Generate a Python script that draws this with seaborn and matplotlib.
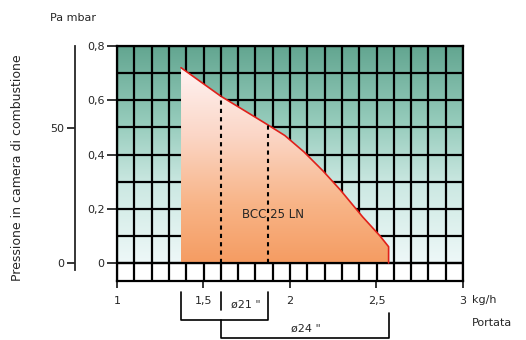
import numpy as np
import matplotlib
matplotlib.use("Agg")
import matplotlib.pyplot as plt
from matplotlib.colors import LinearSegmentedColormap
from matplotlib.patches import Polygon
import seaborn as sns

# Data
curve_x = [1.37, 1.60, 1.87, 1.97, 2.08, 2.19, 2.29, 2.42, 2.52, 2.57, 2.57]
curve_y = [0.72, 0.615, 0.51, 0.47, 0.41, 0.34, 0.27, 0.17, 0.10, 0.06, 0.0]
dash_x = [1.60, 1.87]
x_ticks = [1, 1.5, 2, 2.5, 3]
x_labels = ["1", "1,5", "2", "2,5", "3"]
y_ticks = [0, 0.2, 0.4, 0.6, 0.8]
y_labels = ["0", "0,2", "0,4", "0,6", "0,8"]
mbar_ticks = [0, 50]
model = "BCC 25 LN"
head1 = ("ø21 \"", 1.37, 1.87)
head2 = ("ø24 \"", 1.60, 2.57)

sns.set_style("white")
plt.rcParams["font.family"] = ["DejaVu Sans"]
plt.rcParams["font.size"] = 8

W, H = 526, 340
fig = plt.figure(figsize=(W / 100, H / 100), dpi=100)
ax = fig.add_axes([117 / W, 1 - 281 / H, 346 / W, 235 / H])
ybot = -18 / 271.3
ax.set_xlim(1, 3)
ax.set_ylim(ybot, 0.8)

# grid background gradient
bg = LinearSegmentedColormap.from_list(
    "bg", [(0, "#eef8f8"), (0.35, "#cde9e3"), (0.65, "#95cbbb"), (1, "#62a590")])
ax.imshow(np.linspace(0, 1, 256).reshape(-1, 1), extent=[1, 3, 0, 0.8], origin="lower",
          aspect="auto", cmap=bg, zorder=0)

# grid
for gx in np.arange(1.0, 3.01, 0.1):
    ax.axvline(gx, color="black", lw=1.6, zorder=0.5)
for gy in np.arange(0.0, 0.81, 0.1):
    ax.axhline(gy, color="black", lw=1.6, zorder=0.5)
ax.axhline(0, color="black", lw=1.6, zorder=3)
for s in ax.spines.values():
    s.set_linewidth(1.6)
    s.set_color("black")
    s.set_zorder(5)

# working area with gradient fill
pts = np.column_stack([[curve_x[0]] + curve_x, [0] + curve_y])
poly = Polygon(pts, closed=True, facecolor="none", edgecolor="none", transform=ax.transData)
ax.add_patch(poly)
fill = LinearSegmentedColormap.from_list(
    "fill", [(0, "#f59c62"), (0.3, "#f8b487"), (0.65, "#fbd6c6"), (1, "#fff3f3")])
im = ax.imshow(np.linspace(0, 1, 256).reshape(-1, 1), extent=[1, 3, 0, max(curve_y)],
               origin="lower", aspect="auto", cmap=fill, zorder=1)
im.set_clip_path(poly)
sns.lineplot(x=curve_x, y=curve_y, sort=False, estimator=None, color="#e0201a",
             linewidth=1.2, ax=ax, zorder=4)

# dashed lines
for dx in dash_x:
    top = np.interp(dx, curve_x[:-1], curve_y[:-1])
    ax.plot([dx, dx], [0, top], color="black", ls=(0, (2, 2)), lw=1.5, zorder=4)
ax.text(1.9, 0.177, model, ha="center", va="center", fontsize=8.5, zorder=6)

ax.set_xticks(x_ticks)
ax.set_xticklabels(x_labels)
ax.set_yticks(y_ticks)
ax.set_yticklabels(y_labels)
ax.tick_params(axis="x", direction="out", length=5, width=1.3, pad=6, bottom=True)
ax.tick_params(axis="y", direction="out", length=7, width=1.3, pad=2, left=True)

# brackets below the axis
def yd(px):
    return (263 - px) / 271.3

lab, a, b = head1
ax.plot([a, a, b, b], [yd(292), yd(320), yd(320), yd(292)], color="black", lw=1.2, clip_on=False)
ax.plot([dash_x[0], dash_x[0]], [yd(292), yd(310)], color="black", lw=1.2, clip_on=False)
ax.text(1.745, yd(305), lab, ha="center", va="center", fontsize=8)
lab, a, b = head2
ax.plot([a, a, b, b], [yd(320), yd(338), yd(338), yd(313)], color="black", lw=1.2, clip_on=False)
ax.text(2.09, yd(329), lab, ha="center", va="center", fontsize=8)

ax.text(3.05, yd(300), "kg/h", ha="left", va="center", fontsize=8)
ax.text(3.05, yd(323), "Portata", ha="left", va="center", fontsize=8)

# outer mbar axis
ax2 = fig.add_axes([75 / W, 1 - 281 / H, 0.001, 235 / H])
ax2.set_ylim(-18 * 50 / 135, 217 * 50 / 135)
ax2.set_xticks([])
ax2.set_yticks(mbar_ticks)
ax2.set_yticklabels([str(t) for t in mbar_ticks])
for k in ["top", "right", "bottom"]:
    ax2.spines[k].set_visible(False)
ax2.spines["left"].set_linewidth(1.3)
ax2.spines["left"].set_bounds(-2.6, 217 * 50 / 135)
ax2.tick_params(axis="y", direction="out", length=6, width=1.3, pad=2, left=True)
ax2.patch.set_alpha(0)

fig.text(50 / W, 1 - 18 / H, "Pa mbar", ha="left", va="center", fontsize=8)
fig.text(18 / W, 1 - 168 / H, "Pressione in camera di combustione", rotation=90,
         ha="center", va="center", fontsize=9)

fig.savefig("out.png", dpi=100)
